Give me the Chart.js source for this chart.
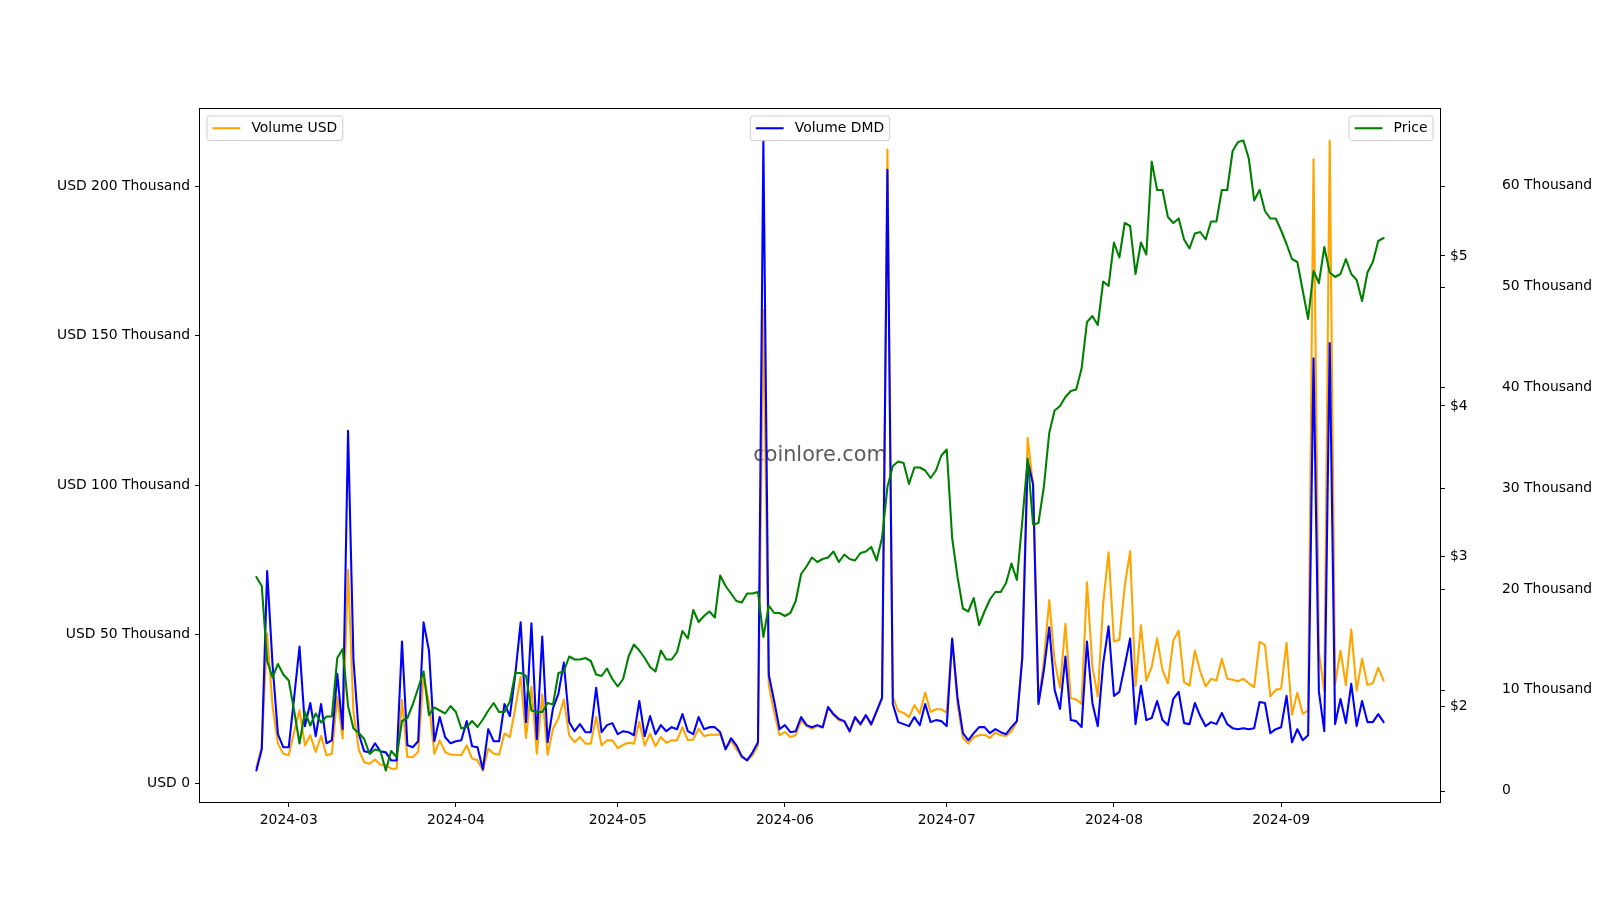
<!DOCTYPE html>
<html lang="en">
<head>
<meta charset="UTF-8">
<title>DMD Volume and Price</title>
<script src="https://cdn.jsdelivr.net/npm/chart.js@4"></script>
<style>
    html, body { margin: 0; padding: 0; background: #fff; }
    #wrap { width: 1600px; height: 900px; }
</style>
</head>
<body>
<div id="wrap"><canvas id="plot" width="1600" height="900"></canvas></div>
<script>
// daily values, first day below, one value per day
const startDate = '2024-02-24';

// USD volume, thousands
const volumeUsdK = [
    5.5, 12.3, 50.3, 26, 13.4, 10.0, 9.5, 17.3, 24.6, 12.8,
    16.2, 10.6, 16.0, 9.5, 10.0, 29.1, 15.1, 71.6, 24, 11.2,
    7.2, 6.7, 8.1, 6.3, 6.3, 5.0, 5.0, 28, 8.9, 8.9,
    10.6, 36.3, 27, 10.0, 14.5, 10.6, 9.7, 9.7, 9.5, 12.8,
    8.4, 7.8, 4.4, 11.7, 10.0, 9.7, 16.8, 15.6, 25.2, 35.8,
    15.3, 32.4, 10.0, 29.9, 9.7, 18.4, 21.8, 28.2, 16.2, 13.9,
    15.6, 13.4, 13.4, 22.3, 12.8, 14.5, 14.5, 11.9, 13.0, 13.7,
    13.4, 20.7, 12.8, 16.8, 12.5, 15.6, 13.7, 14.5, 14.5, 18.9,
    14.5, 14.8, 18.4, 15.9, 16.4, 16.4, 16.5, 11.5, 14.4, 11.6,
    8.9, 7.8, 9.5, 12.8, 158.6, 33, 24, 16.2, 17.3, 15.6,
    16.2, 21.2, 19.3, 18.4, 19.3, 18.7, 25.5, 22.9, 21.2, 20.7,
    17.3, 22.0, 19.6, 22.7, 19.6, 24.0, 28.5, 212.4, 29.1, 24.3,
    23.7, 22.3, 26.3, 23.5, 30.5, 24.0, 24.9, 24.9, 23.8, 48.4,
    26.5, 15.3, 13.4, 15.6, 16.2, 16.4, 15.3, 17.1, 16.2, 16.0,
    17.5, 20.7, 41.9, 115.8, 100, 27.5, 40.8, 61.5, 41, 32.1,
    53.5, 28.6, 28.2, 26.7, 67.4, 39.1, 29.2, 60.4, 77.5, 47.6,
    48.2, 66.2, 77.9, 32.6, 53.0, 34.5, 39.1, 48.7, 38.0, 33.6,
    47.9, 51.2, 34.0, 32.8, 44.5, 37.6, 32.6, 35.1, 34.5, 41.8,
    35.1, 34.8, 34.3, 35.1, 33.6, 32.3, 47.5, 46.5, 29.2, 31.4,
    31.8, 47.2, 23.1, 30.4, 23.4, 24.5, 209.1, 44, 31, 215.4,
    33.3, 44.5, 33.0, 51.6, 31.1, 41.8, 33.0, 33.7, 38.8, 34.5
];

// DMD volume, thousands
const volumeDmdK = [
    2.0, 4.1, 21.8, 12.5, 5.6, 4.3, 4.3, 9.2, 14.3, 6.4,
    8.7, 5.4, 8.6, 4.7, 5.0, 11.6, 6.1, 35.7, 13.0, 5.6,
    3.9, 3.8, 4.7, 3.9, 3.8, 3.0, 3.0, 14.8, 4.5, 4.3,
    4.9, 16.7, 13.9, 4.9, 7.3, 5.3, 4.7, 4.9, 5.0, 6.9,
    4.4, 4.3, 2.1, 6.1, 4.9, 4.9, 8.6, 7.4, 11.5, 16.7,
    6.8, 16.6, 5.1, 15.3, 4.8, 8.2, 9.6, 12.7, 6.8, 5.9,
    6.6, 5.8, 5.8, 10.2, 5.8, 6.5, 6.7, 5.6, 5.9, 5.8,
    5.5, 8.9, 5.4, 7.4, 5.6, 6.5, 5.9, 6.3, 6.1, 7.6,
    5.9, 5.6, 7.3, 6.1, 6.3, 6.3, 5.8, 4.1, 5.2, 4.5,
    3.4, 3.0, 3.8, 4.8, 64.5, 11.5, 8.9, 6.1, 6.5, 5.8,
    5.9, 7.3, 6.5, 6.3, 6.5, 6.3, 8.3, 7.6, 7.1, 6.9,
    5.9, 7.3, 6.6, 7.5, 6.6, 7.9, 9.2, 61.6, 8.6, 6.8,
    6.6, 6.4, 7.3, 6.5, 8.6, 6.8, 7.0, 6.9, 6.4, 15.1,
    9.2, 5.7, 5.0, 5.7, 6.3, 6.3, 5.7, 6.1, 5.8, 5.6,
    6.3, 6.9, 13.2, 32.7, 30.4, 8.6, 11.9, 16.2, 10.0, 8.1,
    13.3, 7.0, 6.9, 6.3, 14.8, 8.7, 6.4, 12.6, 16.3, 9.4,
    9.8, 12.4, 15.1, 6.6, 10.4, 7.0, 7.2, 8.9, 7.0, 6.5,
    9.1, 9.8, 6.7, 6.6, 8.7, 7.4, 6.4, 6.8, 6.6, 7.7,
    6.6, 6.2, 6.1, 6.2, 6.1, 6.2, 8.8, 8.7, 5.7, 6.1,
    6.3, 9.4, 4.8, 6.1, 5.0, 5.5, 42.9, 9.8, 5.9, 44.4,
    6.6, 9.1, 6.7, 10.6, 6.4, 8.9, 6.8, 6.8, 7.6, 6.8
];

// price in USD
const priceUsd = [
    2.86, 2.80, 2.30, 2.19, 2.28, 2.21, 2.17, 1.97, 1.75, 1.96,
    1.87, 1.95, 1.89, 1.93, 1.93, 2.32, 2.38, 2.00, 1.85, 1.82,
    1.78, 1.68, 1.71, 1.70, 1.57, 1.70, 1.66, 1.90, 1.92, 2.01,
    2.12, 2.23, 1.94, 1.99, 1.97, 1.95, 2.00, 1.96, 1.85, 1.86,
    1.90, 1.86, 1.91, 1.97, 2.02, 1.96, 1.96, 2.03, 2.22, 2.22,
    2.20, 1.97, 1.96, 1.96, 2.02, 2.01, 2.22, 2.23, 2.33, 2.31,
    2.31, 2.32, 2.30, 2.21, 2.20, 2.25, 2.18, 2.13, 2.18, 2.33,
    2.41, 2.37, 2.32, 2.26, 2.23, 2.37, 2.31, 2.31, 2.36, 2.50,
    2.45, 2.64, 2.56, 2.60, 2.63, 2.59, 2.87, 2.80, 2.75, 2.70,
    2.69, 2.75, 2.75, 2.76, 2.46, 2.67, 2.62, 2.62, 2.60, 2.62,
    2.70, 2.88, 2.93, 2.99, 2.96, 2.98, 2.99, 3.03, 2.96, 3.01,
    2.98, 2.97, 3.02, 3.03, 3.06, 2.97, 3.12, 3.46, 3.60, 3.63,
    3.62, 3.48, 3.59, 3.59, 3.57, 3.52, 3.57, 3.67, 3.71, 3.12,
    2.86, 2.65, 2.63, 2.72, 2.54, 2.63, 2.71, 2.76, 2.76, 2.82,
    2.95, 2.84, 3.23, 3.65, 3.21, 3.22, 3.46, 3.82, 3.97, 4.00,
    4.06, 4.10, 4.11, 4.25, 4.56, 4.60, 4.54, 4.83, 4.80, 5.09,
    4.99, 5.22, 5.20, 4.88, 5.09, 5.01, 5.63, 5.44, 5.44, 5.26,
    5.22, 5.25, 5.11, 5.05, 5.15, 5.16, 5.11, 5.23, 5.23, 5.44,
    5.44, 5.70, 5.76, 5.77, 5.65, 5.37, 5.44, 5.30, 5.25, 5.25,
    5.17, 5.08, 4.98, 4.96, 4.77, 4.58, 4.90, 4.82, 5.06, 4.89,
    4.86, 4.88, 4.98, 4.88, 4.84, 4.70, 4.89, 4.96, 5.10, 5.12
];

const monthTicks = ['2024-03', '2024-04', '2024-05', '2024-06', '2024-07', '2024-08', '2024-09'];
const usdTicksK = [0, 50, 100, 150, 200];
const usdTickLabels = ['USD 0', 'USD 50 Thousand', 'USD 100 Thousand', 'USD 150 Thousand', 'USD 200 Thousand'];
const priceTicks = [2, 3, 4, 5];
const priceTickLabels = ['$2', '$3', '$4', '$5'];
const dmdTicksK = [0, 10, 20, 30, 40, 50, 60];
const dmdTickLabels = ['0', '10 Thousand', '20 Thousand', '30 Thousand', '40 Thousand', '50 Thousand', '60 Thousand'];

const FONT = { family: 'DejaVu Sans', size: 13.9 };
const LINE_W = 2.08; // 1.5pt at 100 dpi

function dayOffset(s) {
    const p = s.split('-').map(Number);
    const a = Date.UTC(p[0], p[1] - 1, p[2] || 1);
    const b = Date.UTC(...startDate.split('-').map((v, i) => i === 1 ? v - 1 : +v));
    return Math.round((a - b) / 86400000);
}
const monthOffsets = monthTicks.map(m => dayOffset(m + '-01'));

// matplotlib style 5% margins
function padded(lo, hi) {
    const m = (hi - lo) * 0.05;
    return { min: lo - m, max: hi + m };
}
const xRange = padded(0, priceUsd.length - 1);
const usdRange = padded(Math.min(...volumeUsdK), Math.max(...volumeUsdK));
const priceRange = padded(Math.min(...priceUsd), Math.max(...priceUsd));
const dmdRange = padded(Math.min(...volumeDmdK), Math.max(...volumeDmdK));

const toPoints = arr => arr.map((v, i) => ({ x: i, y: v }));

function setTicks(values) {
    return scale => { scale.ticks = values.map(v => ({ value: v })); };
}
function labelFrom(values, labels) {
    return v => labels[values.indexOf(v)];
}

const axisGrid = { drawOnChartArea: false, drawTicks: true, tickLength: 5, tickColor: '#000', tickWidth: 1 };

const framePlugin = {
    id: 'frame',
    beforeDatasetsDraw(chart) {
        const { ctx, chartArea: a } = chart;
        ctx.save();
        ctx.font = '20.8px "DejaVu Sans"';
        ctx.fillStyle = '#5c5c5c';
        ctx.textAlign = 'center';
        ctx.textBaseline = 'middle';
        ctx.fillText('coinlore.com', (a.left + a.right) / 2, (a.top + a.bottom) / 2);
        ctx.restore();
    },
    afterDraw(chart) {
        const { ctx, chartArea: a } = chart;
        ctx.save();
        ctx.strokeStyle = '#000';
        ctx.lineWidth = 1;
        ctx.strokeRect(Math.round(a.left) - 0.5, Math.round(a.top) - 0.5,
            Math.round(a.right - a.left) + 1, Math.round(a.bottom - a.top) + 1);

        // ticks of the outer volume axis sit on the inner right spine
        const s = chart.scales.yDmd;
        ctx.beginPath();
        dmdTicksK.forEach(v => {
            const y = Math.round(s.getPixelForValue(v)) + 0.5;
            ctx.moveTo(a.right, y);
            ctx.lineTo(a.right + 5, y);
        });
        ctx.stroke();

        // three separate legends
        const fs = FONT.size;
        const pad = 0.4 * fs, handle = 2 * fs, gap = 0.8 * fs, edge = 0.5 * fs;
        ctx.font = fs + 'px "DejaVu Sans"';
        chart.data.datasets.forEach(ds => {
            const tw = ctx.measureText(ds.label).width;
            const w = pad + handle + gap + tw + pad;
            const h = 2 * pad + fs * 0.97;
            let x;
            if (ds.legendAt === 'left') x = a.left + edge;
            else if (ds.legendAt === 'right') x = a.right - edge - w;
            else x = (a.left + a.right) / 2 - w / 2;
            const y = a.top + edge;
            ctx.beginPath();
            ctx.roundRect(x, y, w, h, 2.8);
            ctx.fillStyle = 'rgba(255,255,255,0.8)';
            ctx.fill();
            ctx.strokeStyle = '#cccccc';
            ctx.lineWidth = 1;
            ctx.stroke();
            ctx.beginPath();
            ctx.moveTo(x + pad, y + h / 2);
            ctx.lineTo(x + pad + handle, y + h / 2);
            ctx.strokeStyle = ds.borderColor;
            ctx.lineWidth = LINE_W;
            ctx.stroke();
            ctx.fillStyle = '#000';
            ctx.textAlign = 'left';
            ctx.textBaseline = 'middle';
            ctx.fillText(ds.label, x + pad + handle + gap, y + h / 2 + 0.5);
        });
        ctx.restore();
    }
};

const ctx = document.getElementById('plot').getContext('2d');
new Chart(ctx, {
    type: 'line',
    data: {
        datasets: [{
            label: 'Volume USD',
            data: toPoints(volumeUsdK),
            yAxisID: 'yUsd',
            borderColor: '#FFA500',
            order: 3,
            legendAt: 'left'
        }, {
            label: 'Volume DMD',
            data: toPoints(volumeDmdK),
            yAxisID: 'yDmd',
            borderColor: '#0000FF',
            order: 2,
            legendAt: 'center'
        }, {
            label: 'Price',
            data: toPoints(priceUsd),
            yAxisID: 'yPrice',
            borderColor: '#008000',
            order: 1,
            legendAt: 'right'
        }]
    },
    options: {
        responsive: false,
        devicePixelRatio: 1,
        animation: false,
        layout: { padding: { top: 109, left: 0, right: 0, bottom: 0 } },
        elements: {
            point: { radius: 0 },
            line: { borderWidth: LINE_W, tension: 0, fill: false, borderJoinStyle: 'round', borderCapStyle: 'round' }
        },
        plugins: {
            legend: { display: false },
            tooltip: { enabled: false }
        },
        scales: {
            x: {
                type: 'linear',
                position: 'bottom',
                min: xRange.min,
                max: xRange.max,
                afterBuildTicks: setTicks(monthOffsets),
                afterFit: s => { s.height = 98; },
                border: { display: false },
                grid: axisGrid,
                ticks: {
                    callback: labelFrom(monthOffsets, monthTicks),
                    autoSkip: false, maxRotation: 0, padding: 5,
                    color: '#000', font: FONT
                }
            },
            yUsd: {
                type: 'linear',
                position: 'left',
                min: usdRange.min,
                max: usdRange.max,
                afterBuildTicks: setTicks(usdTicksK),
                afterFit: s => { s.width = 200; },
                border: { display: false },
                grid: axisGrid,
                ticks: { callback: labelFrom(usdTicksK, usdTickLabels), padding: 5, color: '#000', font: FONT }
            },
            yPrice: {
                type: 'linear',
                position: 'right',
                weight: 1,
                min: priceRange.min,
                max: priceRange.max,
                afterBuildTicks: setTicks(priceTicks),
                afterFit: s => { s.width = 62; },
                border: { display: false },
                grid: axisGrid,
                ticks: { callback: labelFrom(priceTicks, priceTickLabels), padding: 5, color: '#000', font: FONT }
            },
            yDmd: {
                type: 'linear',
                position: 'right',
                weight: 2,
                min: dmdRange.min,
                max: dmdRange.max,
                afterBuildTicks: setTicks(dmdTicksK),
                afterFit: s => { s.width = 98; },
                border: { display: false },
                grid: { drawOnChartArea: false, drawTicks: false },
                ticks: { callback: labelFrom(dmdTicksK, dmdTickLabels), padding: 0, color: '#000', font: FONT }
            }
        }
    },
    plugins: [framePlugin]
});
</script>
</body>
</html>
